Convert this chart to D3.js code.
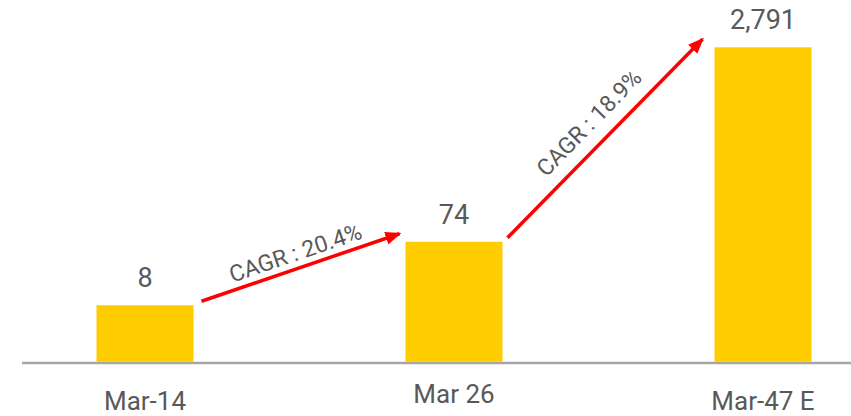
<!DOCTYPE html>
<html>
<head>
<meta charset="utf-8">
<script src="https://cdn.jsdelivr.net/npm/d3@7"></script>
<style>
  body { margin: 0; background: #fff; }
  text { font-family: Roboto, "DejaVu Sans", sans-serif; fill: #595959; }
</style>
</head>
<body>
<div id="chart"></div>
<script>
// data
const categories = ["Mar-14", "Mar 26", "Mar-47 E"];
const values = [8, 74, 2791];
const cagrLabels = ["CAGR : 20.4%", "CAGR : 18.9%"];

var width = 851,
    height = 416;

var svg = d3.select("#chart")
  .append("svg")
    .attr("width", width)
    .attr("height", height);

// centres of the bars
var x = d3.scalePoint()
  .domain(categories)
  .range([145, 763]);
var barWidth = 97;

// bars in the original are drawn compressed, a power scale gets close
var y = d3.scalePow()
  .exponent(0.21)
  .domain([0.22, d3.max(values)])
  .range([361.7, 47.3]);

var data = categories.map(function(c, i) { return {cat: c, value: values[i]}; });

// bars
svg.selectAll("rect.bar")
  .data(data)
  .enter()
  .append("rect")
    .attr("class", "bar")
    .attr("x", d => x(d.cat) - barWidth / 2)
    .attr("y", d => y(d.value))
    .attr("width", barWidth)
    .attr("height", d => y.range()[0] - y(d.value))
    .attr("fill", "#ffcc00");

// value labels
svg.selectAll("text.val")
  .data(data)
  .enter()
  .append("text")
    .attr("class", "val")
    .attr("x", d => x(d.cat))
    .attr("y", d => y(d.value) - 18)
    .attr("text-anchor", "middle")
    .style("font-size", "27px")
    .text(d => d3.format(",")(d.value));

// baseline
svg.append("line")
  .attr("x1", 22)
  .attr("x2", width)
  .attr("y1", 363)
  .attr("y2", 363)
  .attr("stroke", "#a6a6a6")
  .attr("stroke-width", 2.5);

// category labels (middle one sits a bit higher in the original)
var labelDy = [0, -7, 0];
svg.selectAll("text.cat")
  .data(data)
  .enter()
  .append("text")
    .attr("class", "cat")
    .attr("x", d => x(d.cat))
    .attr("y", (d, i) => 410 + labelDy[i])
    .attr("text-anchor", "middle")
    .style("font-size", "26px")
    .text(d => d.cat);

// arrow head
svg.append("defs")
  .append("marker")
    .attr("id", "head")
    .attr("markerUnits", "userSpaceOnUse")
    .attr("viewBox", "0 -7 16 14")
    .attr("refX", 14)
    .attr("refY", 0)
    .attr("markerWidth", 16)
    .attr("markerHeight", 14)
    .attr("orient", "auto")
  .append("path")
    .attr("d", "M0,-6.5L16,0L0,6.5Z")
    .attr("fill", "#ff0000");

// CAGR arrows between consecutive bars
var labelOffset = [15, 22];
var startDx = [8, 5], endDx = [6, 12];
cagrLabels.forEach(function(lab, i) {
  var a = data[i], b = data[i + 1];
  var x1 = x(a.cat) + barWidth / 2 + startDx[i],
      y1 = y(a.value) - 4,
      x2 = x(b.cat) - barWidth / 2 - endDx[i],
      y2 = y(b.value) - 8;

  svg.append("line")
    .attr("x1", x1).attr("y1", y1)
    .attr("x2", x2).attr("y2", y2)
    .attr("stroke", "#ff0000")
    .attr("stroke-width", 3.5)
    .attr("marker-end", "url(#head)");

  var ang = Math.atan2(y2 - y1, x2 - x1);
  var mx = (x1 + x2) / 2 + Math.sin(ang) * labelOffset[i],
      my = (y1 + y2) / 2 - Math.cos(ang) * labelOffset[i];

  svg.append("text")
    .attr("transform", "translate(" + mx + "," + my + ") rotate(" + (ang * 180 / Math.PI) + ")")
    .attr("text-anchor", "middle")
    .attr("dominant-baseline", "central")
    .style("font-size", "23px")
    .text(lab);
});
</script>
</body>
</html>
